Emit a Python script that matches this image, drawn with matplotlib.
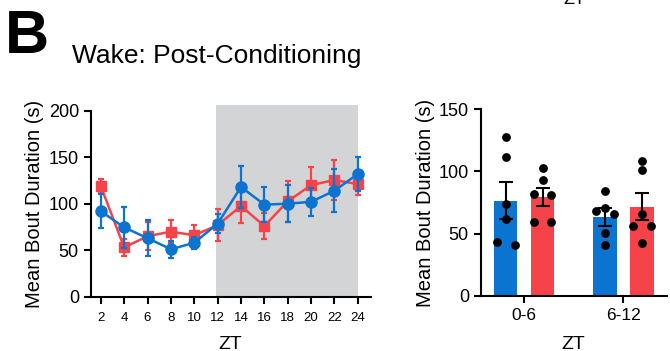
"""Wake: Post-Conditioning, mean bout duration"""

import numpy as np
import matplotlib
matplotlib.use('Agg')
import matplotlib.pyplot as plt
from matplotlib.patches import Rectangle

# time course (left panel)
zt = [2, 4, 6, 8, 10, 12, 14, 16, 18, 20, 22, 24]
red_mean = [119, 53, 65, 70, 66, 77, 97.5, 76, 102.5, 120, 125.5, 121]
red_err = [8, 9, 15, 12, 11, 17, 18, 14, 22, 20, 22, 12]
blue_mean = [92, 74.5, 63, 51, 58, 78.5, 118, 99, 100, 102, 114, 132]
blue_err = [18, 22, 19, 9, 6.5, 10, 23, 19, 20, 15, 23, 18]

# bar summary (right panel)
bins = ['0-6', '6-12']
blue_bar = [76.5, 63.3]
blue_bar_err = [15, 7.5]
red_bar = [79.4, 71.6]
red_bar_err = [7, 11]
blue_pts = [[127.4, 112, 74, 62, 43.5, 40.5],
            [84.5, 70.3, 68.4, 65.5, 50.7, 40.6]]
red_pts = [[103, 93, 81.5, 81, 59, 59],
           [108, 101, 65.7, 56.3, 56.3, 42.6]]

BLUE = '#0A74D0'
RED = '#F6434A'
GREY = '#D3D4D6'

plt.rcParams['font.family'] = ['Liberation Sans', 'DejaVu Sans']


def swarm(vals, d=0.09, thr=6.0):
    """spread points that overlap into symmetric rows"""
    order = np.argsort(vals)[::-1]
    offs = np.zeros(len(vals))
    rows = []
    for i in order:
        if rows and abs(vals[rows[-1][0]] - vals[i]) < thr:
            rows[-1].append(i)
        else:
            rows.append([i])
    for row in rows:
        n = len(row)
        pat = [0] if n % 2 else []
        for k in range(1, n // 2 + 1):
            pat += [-k * d, k * d]
        for i, o in zip(row, pat):
            offs[i] = o
    return offs


def style(ax):
    for s in ['top', 'right']:
        ax.spines[s].set_visible(False)
    for s in ['left', 'bottom']:
        ax.spines[s].set_linewidth(1.5)
    ax.tick_params(width=1.5, length=5, labelsize=13)


def main():
    fig = plt.figure(figsize=(6.7, 3.51), dpi=100)

    fig.text(0.008, 0.975, 'B', fontsize=44, fontweight='bold', va='top')
    fig.text(0.107, 0.84, 'Wake: Post-Conditioning', fontsize=19,
             va='center')
    fig.text(0.857, 1.0, 'ZT', fontsize=13, ha='center', va='center')

    # left panel
    ax1 = fig.add_axes([0.1354, 0.1547, 0.4179, 0.5299])
    ax1.add_patch(Rectangle((11.87, 0), 24 - 11.87, 206, color=GREY,
                            lw=0, clip_on=False, zorder=0))
    ax1.errorbar(zt, red_mean, yerr=red_err, color=RED, marker='s', ms=6.5,
                 lw=1.8, elinewidth=1.6, capsize=2, capthick=1.6, zorder=3)
    ax1.errorbar(zt, blue_mean, yerr=blue_err, color=BLUE, marker='o',
                 ms=8, lw=1.8, elinewidth=1.6, capsize=2, capthick=1.6,
                 zorder=4)
    ax1.set_xlim(1.14, 25.1)
    ax1.set_ylim(0, 200)
    ax1.set_xticks(zt)
    ax1.set_yticks(range(0, 201, 50))
    style(ax1)
    ax1.tick_params(axis='x', labelsize=9.5, pad=6)
    ax1.set_xlabel('ZT', fontsize=14, labelpad=9)
    ax1.set_ylabel('Mean Bout Duration (s)', fontsize=14.5, labelpad=3)

    # right panel
    ax2 = fig.add_axes([0.7175, 0.1575, 0.2776, 0.5311])
    x = np.arange(len(bins))
    w = 0.238
    sh = 0.186
    ax2.bar(x - sh, blue_bar, w, color=BLUE, zorder=1)
    ax2.bar(x + sh, red_bar, w, color=RED, zorder=1)
    ax2.errorbar(x - sh, blue_bar, yerr=blue_bar_err, fmt='none',
                 ecolor='black', elinewidth=1.5, capsize=5, capthick=1.5,
                 zorder=2)
    ax2.errorbar(x + sh, red_bar, yerr=red_bar_err, fmt='none',
                 ecolor='black', elinewidth=1.5, capsize=5, capthick=1.5,
                 zorder=2)
    for i in range(len(bins)):
        for pts, s in [(blue_pts[i], -sh), (red_pts[i], sh)]:
            offs = swarm(np.array(pts))
            ax2.scatter(x[i] + s + offs, pts, s=40, color='black', lw=0,
                        zorder=3)
    ax2.set_xlim(-0.436, 1.436)
    ax2.set_ylim(0, 150)
    ax2.set_xticks(x)
    ax2.set_xticklabels(bins)
    ax2.set_yticks(range(0, 151, 50))
    style(ax2)
    ax2.tick_params(axis='x', labelsize=12.5)
    ax2.set_xlabel('ZT', fontsize=14, labelpad=10)
    ax2.set_ylabel('Mean Bout Duration (s)', fontsize=14.5, labelpad=3)

    fig.savefig('out.png', dpi=100)


if __name__ == "__main__":
    main()
